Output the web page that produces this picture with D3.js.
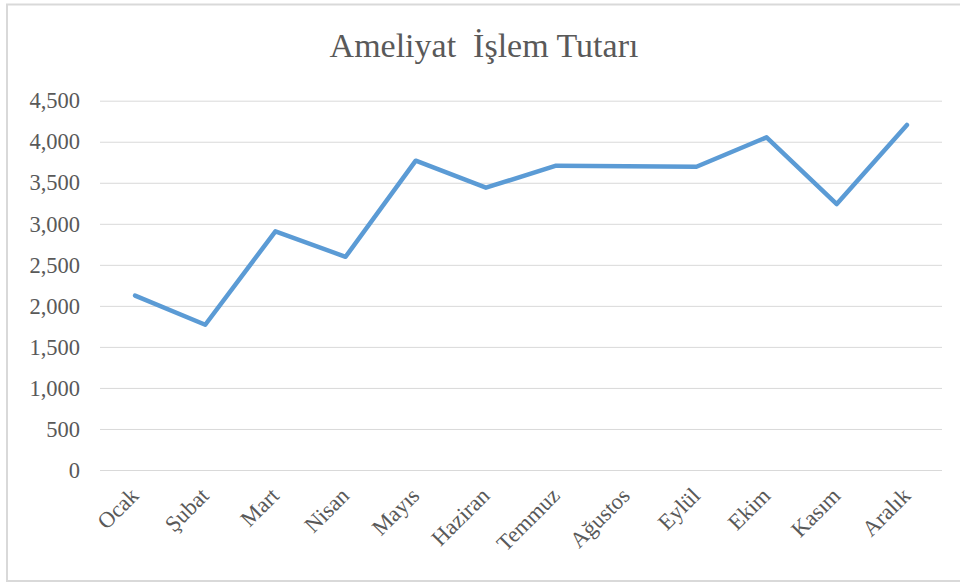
<!DOCTYPE html>
<html>
<head>
<meta charset="utf-8">
<script src="https://cdn.jsdelivr.net/npm/d3@7"></script>
<style>
  body { margin: 0; background: #fff; }
  text { font-family: "Liberation Serif", "Times New Roman", serif; fill: #595959; }
</style>
</head>
<body>
<div class="chart"></div>
<script>
// months and values
const months = ["Ocak", "Şubat", "Mart", "Nisan", "Mayıs", "Haziran",
                "Temmuz", "Ağustos", "Eylül", "Ekim", "Kasım", "Aralık"];
const values = [2125, 1770, 2908, 2598, 3769, 3440, 3708, 3700, 3695, 4054, 3241, 4204];
const yTicks = [0, 500, 1000, 1500, 2000, 2500, 3000, 3500, 4000, 4500];
const title = "Ameliyat  İşlem Tutarı";

const width = 960, height = 583;
const plot = {left: 100, right: 942, top: 100.7, bottom: 470};

const svg = d3.select(".chart")
    .append("svg")
    .attr("width", width)
    .attr("height", height);

// outer frame
svg.append("rect")
    .attr("x", 7).attr("y", 4.5)
    .attr("width", 960).attr("height", 576.5)
    .attr("fill", "none")
    .attr("stroke", "#d9d9d9")
    .attr("stroke-width", 2);

const x = d3.scaleBand()
    .domain(months)
    .range([plot.left, plot.right]);

const y = d3.scaleLinear()
    .domain([0, 4500])
    .range([plot.bottom, plot.top]);

// gridlines + y labels
const yAxis = d3.axisLeft(y)
    .tickValues(yTicks)
    .tickSize(-(plot.right - plot.left))
    .tickPadding(20)
    .tickFormat(d3.format(","));

svg.append("g")
    .attr("transform", `translate(${plot.left},0)`)
    .call(yAxis)
    .call(g => g.select(".domain").remove())
    .call(g => g.selectAll("line").attr("stroke", "#d9d9d9").attr("stroke-width", 1))
    .call(g => g.selectAll("text")
        .attr("font-size", 22.5)
        .attr("fill", "#595959")
        .style("font-family", "'Liberation Serif', serif"));

// x labels, rotated
const xAxis = d3.axisBottom(x).tickSize(0).tickPadding(0);

svg.append("g")
    .attr("transform", `translate(0,${plot.bottom})`)
    .call(xAxis)
    .call(g => g.select(".domain").remove())
    .call(g => g.selectAll("text")
        .attr("font-size", 22.5)
        .attr("fill", "#595959")
        .style("font-family", "'Liberation Serif', serif")
        .attr("text-anchor", "end")
        .attr("dy", null)
        .attr("y", 0)
        .attr("transform", "translate(5,27) rotate(-45)"));

// the line
const line = d3.line()
    .x((d, i) => x(months[i]) + x.bandwidth() / 2)
    .y(d => y(d));

svg.append("path")
    .datum(values)
    .attr("d", line)
    .attr("fill", "none")
    .attr("stroke", "#5b9bd5")
    .attr("stroke-width", 4.5)
    .attr("stroke-linejoin", "round")
    .attr("stroke-linecap", "round");

// title
svg.append("text")
    .attr("x", 484)
    .attr("y", 57)
    .attr("text-anchor", "middle")
    .attr("font-size", 34)
    .style("white-space", "pre")
    .text(title);
</script>
</body>
</html>
